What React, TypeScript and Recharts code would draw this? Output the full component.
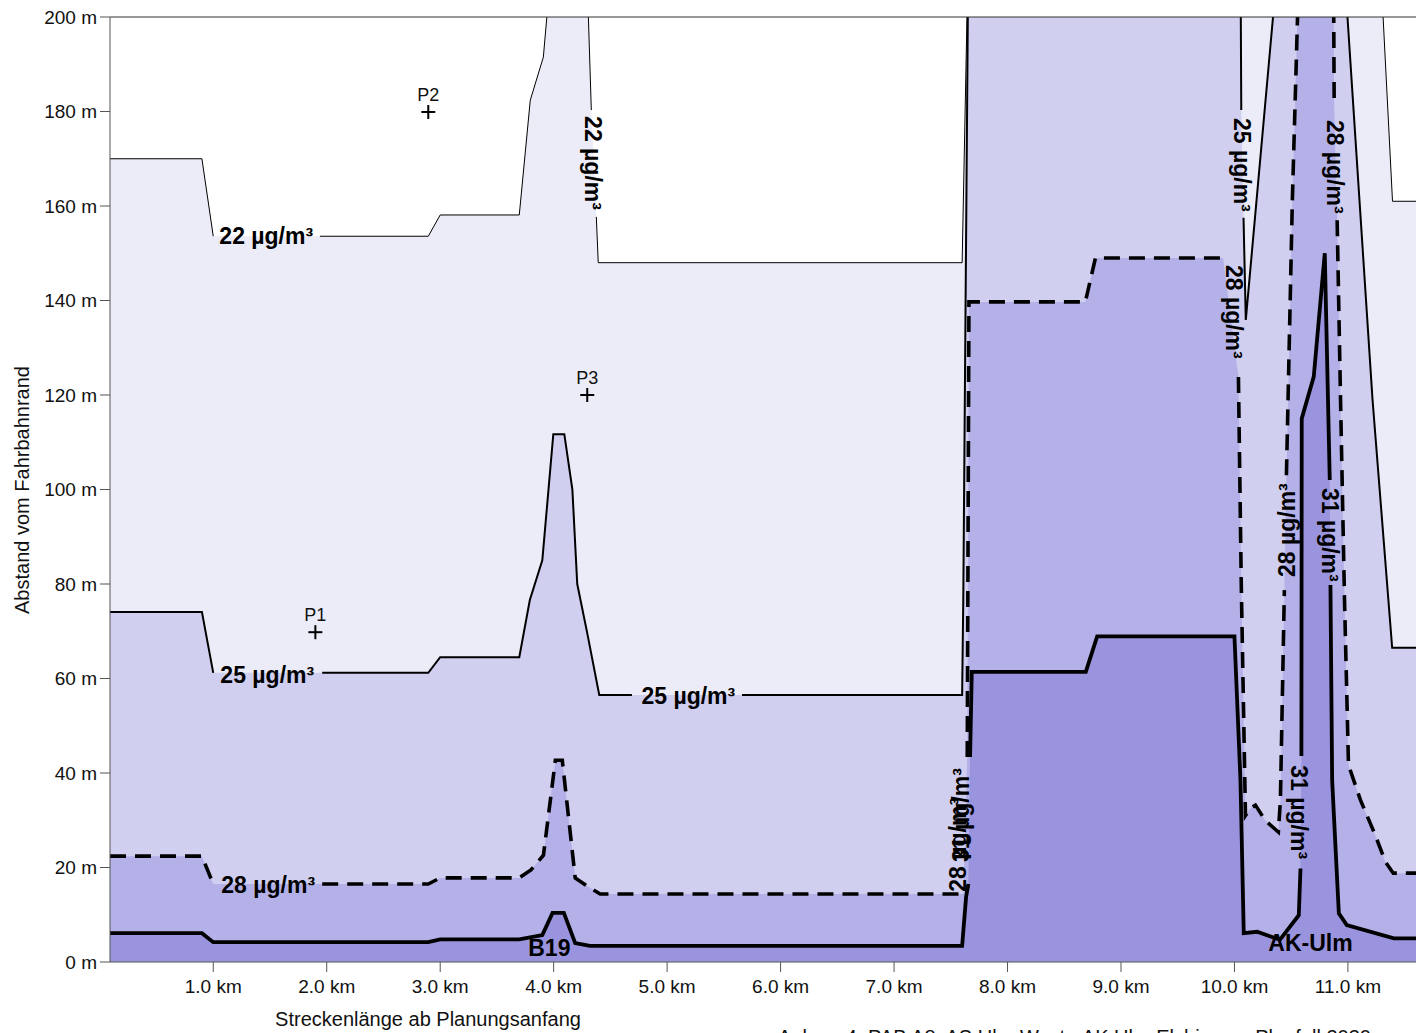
import React from "react";
import {
  Area,
  ComposedChart,
  Line,
  ReferenceLine,
  Scatter,
  XAxis,
  YAxis,
} from "recharts";

// x in km along the road, m = distance from the road edge (values above 200 leave the plot)
const contour22: [number, number | null][] = [
  [0.09, 170], [0.9, 170], [1.0, 153.6], [1.5, null], [1.94, 153.6], [2.895, 153.6],
  [3.0, 158.1], [3.697, 158.1], [3.794, 182.4], [3.909, 191.5], [3.94, 200], [4.01, 215],
  [4.286, 215], [4.306, 200], [4.332, 180.3], [4.35, null], [4.376, 157.7], [4.393, 148],
  [7.6, 148], [7.655, 215], [11.28, 215], [11.31, 200], [11.393, 161], [11.6, 161],
];

const contour25: [number, number | null][] = [
  [0.09, 74.1], [0.9, 74.1], [1.0, 61.2], [1.5, null], [1.96, 61.2], [2.895, 61.2],
  [3.0, 64.5], [3.697, 64.5], [3.79, 76.6], [3.9, 85], [3.997, 111.7], [4.094, 111.7],
  [4.165, 100], [4.208, 80], [4.296, 69.6], [4.402, 56.5], [4.69, 56.5], [5.2, null],
  [5.66, 56.5], [7.6, 56.5], [7.61, 76.6], [7.65, 200], [7.655, 215], [10.053, 215],
  [10.06, 180.3], [10.07, null], [10.08, 157.5], [10.1, 135.9], [10.396, 215],
  [10.955, 215], [10.996, 200], [11.217, 119], [11.39, 66.5], [11.6, 66.5],
];

const contour28: [number, number | null][] = [
  [0.09, 22.4], [0.9, 22.4], [1.0, 16.5], [1.5, null], [1.96, 16.5], [2.895, 16.5],
  [3.0, 17.8], [3.697, 17.8], [3.8, 19.5], [3.91, 22.6], [4.015, 42.7], [4.076, 42.7],
  [4.19, 17.8], [4.32, 15.7], [4.41, 14.4], [7.61, 14.4], [7.63, null], [7.645, 43.4],
  [7.66, 139.7], [8.686, 139.7], [8.775, 149], [9.9, 149], [9.95, null], [10.035, 123.8],
  [10.06, 80], [10.097, 31], [10.14, 32.5], [10.185, 33.2], [10.27, 30], [10.387, 27.5],
  [10.405, 34.3], [10.44, 78.7], [10.45, null], [10.458, 103], [10.51, 161], [10.556, 200],
  [10.562, 215], [10.868, 215], [10.875, 200], [10.879, 181], [10.89, null], [10.905, 157],
  [10.935, 119], [10.97, 76.6], [11.005, 41.7], [11.11, 34.3], [11.24, 26.9], [11.33, 21.2],
  [11.4, 18.8], [11.6, 18.8],
];

const contour31: [number, number | null][] = [
  [0.09, 6.1], [0.9, 6.1], [1.0, 4.2], [2.895, 4.2], [3.0, 4.8], [3.697, 4.8], [3.9, 5.7],
  [3.99, 10.4], [4.09, 10.4], [4.19, 4.0], [4.32, 3.4], [7.6, 3.4], [7.635, 13.8],
  [7.655, 16.5], [7.66, null], [7.67, 43.4], [7.685, 61.4], [8.69, 61.4], [8.79, 68.9],
  [10.0, 68.9], [10.053, 38.5], [10.082, 6.1], [10.2, 6.4], [10.4, 4.7], [10.567, 9.9],
  [10.582, 19.8], [10.585, null], [10.59, 43.6], [10.593, 115], [10.699, 123.9],
  [10.796, 150], [10.84, 102], [10.843, null], [10.846, 79.8], [10.861, 38.5], [10.92, 10.3],
  [10.99, 7.8], [11.405, 5.0], [11.6, 5.0],
];

const levelNames = ["22", "25", "28", "31"];
const levelColors = ["#ececf8", "#d0cff0", "#b3b1e7", "#9994dd"];

const contourLabels = [
  { text: "22 µg/m³", km: 1.467, m: 153.6, rot: 0 },
  { text: "25 µg/m³", km: 1.476, m: 60.7, rot: 0 },
  { text: "25 µg/m³", km: 5.187, m: 56.3, rot: 0 },
  { text: "28 µg/m³", km: 1.484, m: 16.3, rot: 0 },
  { text: "22 µg/m³", km: 4.35, m: 169.1, rot: 90 },
  { text: "25 µg/m³", km: 10.07, m: 168.7, rot: 90 },
  { text: "28 µg/m³", km: 10.0, m: 137.6, rot: 90 },
  { text: "28 µg/m³", km: 10.89, m: 168.3, rot: 90 },
  { text: "28 µg/m³", km: 10.467, m: 91.4, rot: -90 },
  { text: "31 µg/m³", km: 10.84, m: 90.4, rot: 90 },
  { text: "31 µg/m³", km: 10.565, m: 31.7, rot: 90 },
  { text: "28 µg/m³", km: 7.567, m: 24.8, rot: -90 },
  { text: "31 µg/m³", km: 7.593, m: 31.1, rot: -90 },
  { text: "B19", km: 3.962, m: 3.0, rot: 0 },
  { text: "AK-Ulm", km: 10.67, m: 4.0, rot: 0 },
];

const receptors = [
  { name: "P1", km: 1.9, m: 69.8 },
  { name: "P2", km: 2.895, m: 179.9 },
  { name: "P3", km: 4.296, m: 120 },
];

const xTicks = [1, 2, 3, 4, 5, 6, 7, 8, 9, 10, 11];
const yTicks = [0, 20, 40, 60, 80, 100, 120, 140, 160, 180, 200];

const FONT = "'Liberation Sans', Arial, Helvetica, sans-serif";

const contours = [contour22, contour25, contour28, contour31];
const asLine = (c: [number, number | null][]) => c.map(([km, m]) => ({ km, m }));
const asFill = (c: [number, number | null][]) =>
  c.filter(([, m]) => m !== null).map(([km, m]) => ({ km, m }));

const lineStyles = [
  { width: 1, dash: undefined },
  { width: 2, dash: undefined },
  { width: 3.6, dash: "16 9" },
  { width: 3.8, dash: undefined },
];

function ContourText(props: any) {
  const { cx, cy, payload } = props;
  const rot = payload.rot;
  return (
    <text
      x={cx}
      y={cy}
      textAnchor="middle"
      dominantBaseline="central"
      transform={rot ? `rotate(${rot} ${cx} ${cy})` : undefined}
      fontSize={23}
      fontWeight="bold"
      fontFamily={FONT}
      fill="#000"
    >
      {payload.text}
    </text>
  );
}

function Receptor(props: any) {
  const { cx, cy, payload } = props;
  return (
    <g>
      <line x1={cx - 7} x2={cx + 7} y1={cy} y2={cy} stroke="#000" strokeWidth={2} />
      <line x1={cx} x2={cx} y1={cy - 7} y2={cy + 7} stroke="#000" strokeWidth={2} />
      <text x={cx} y={cy - 11} textAnchor="middle" fontSize={18} fontFamily={FONT} fill="#111">
        {payload.name}
      </text>
    </g>
  );
}

export default function App() {
  return (
    <div style={{ position: "relative", width: 1416, height: 1033, overflow: "hidden" }}>
      <style>{"body{margin:0;overflow:hidden}"}</style>
      <ComposedChart
        width={1416}
        height={1033}
        margin={{ top: 17, right: 0, bottom: 31, left: 0 }}
      >
        <XAxis
          dataKey="km"
          type="number"
          domain={[0.09, 11.6]}
          allowDataOverflow
          ticks={xTicks}
          interval={0}
          tickFormatter={(v) => `${Number(v).toFixed(1)} km`}
          height={40}
          tickSize={10}
          tickMargin={8}
          axisLine={{ stroke: "#555" }}
          tickLine={{ stroke: "#555" }}
          tick={{ fill: "#111", fontSize: 19, fontFamily: FONT }}
        />
        <YAxis
          dataKey="m"
          type="number"
          domain={[0, 200]}
          allowDataOverflow
          ticks={yTicks}
          interval={0}
          tickFormatter={(v) => `${v} m`}
          width={110}
          tickSize={10}
          tickMargin={3}
          axisLine={{ stroke: "#555" }}
          tickLine={{ stroke: "#555" }}
          tick={{ fill: "#111", fontSize: 19, fontFamily: FONT }}
        />
        {contours.map((c, i) => (
          <Area
            key={`fill-${levelNames[i]}`}
            data={asFill(c)}
            dataKey="m"
            type="linear"
            fill={levelColors[i]}
            fillOpacity={1}
            stroke="none"
            isAnimationActive={false}
          />
        ))}
        {contours.map((c, i) => (
          <Line
            key={`line-${levelNames[i]}`}
            data={asLine(c)}
            dataKey="m"
            type="linear"
            stroke="#000"
            strokeWidth={lineStyles[i].width}
            strokeDasharray={lineStyles[i].dash}
            dot={false}
            activeDot={false}
            connectNulls={false}
            isAnimationActive={false}
          />
        ))}
        <ReferenceLine y={200} stroke="#333" strokeWidth={1} />
        <Scatter
          data={receptors}
          dataKey="m"
          shape={(p: any) => <Receptor {...p} />}
          isAnimationActive={false}
        />
        <Scatter
          data={contourLabels}
          dataKey="m"
          shape={(p: any) => <ContourText {...p} />}
          isAnimationActive={false}
        />
      </ComposedChart>
      <div
        style={{
          position: "absolute",
          left: 22,
          top: 490,
          transform: "translate(-50%, -50%) rotate(-90deg)",
          whiteSpace: "nowrap",
          fontFamily: FONT,
          fontSize: 20,
          color: "#111",
        }}
      >
        Abstand vom Fahrbahnrand
      </div>
      <div
        style={{
          position: "absolute",
          left: 428,
          top: 1008,
          transform: "translateX(-50%)",
          whiteSpace: "nowrap",
          fontFamily: FONT,
          fontSize: 20,
          color: "#111",
        }}
      >
        Streckenlänge ab Planungsanfang
      </div>
      <div
        style={{
          position: "absolute",
          left: 778,
          top: 1026,
          whiteSpace: "nowrap",
          fontFamily: FONT,
          fontSize: 20,
          color: "#111",
        }}
      >
        Anlage 4: PAB A8, AS Ulm-West - AK Ulm-Elchingen, Planfall 2030
      </div>
    </div>
  );
}
